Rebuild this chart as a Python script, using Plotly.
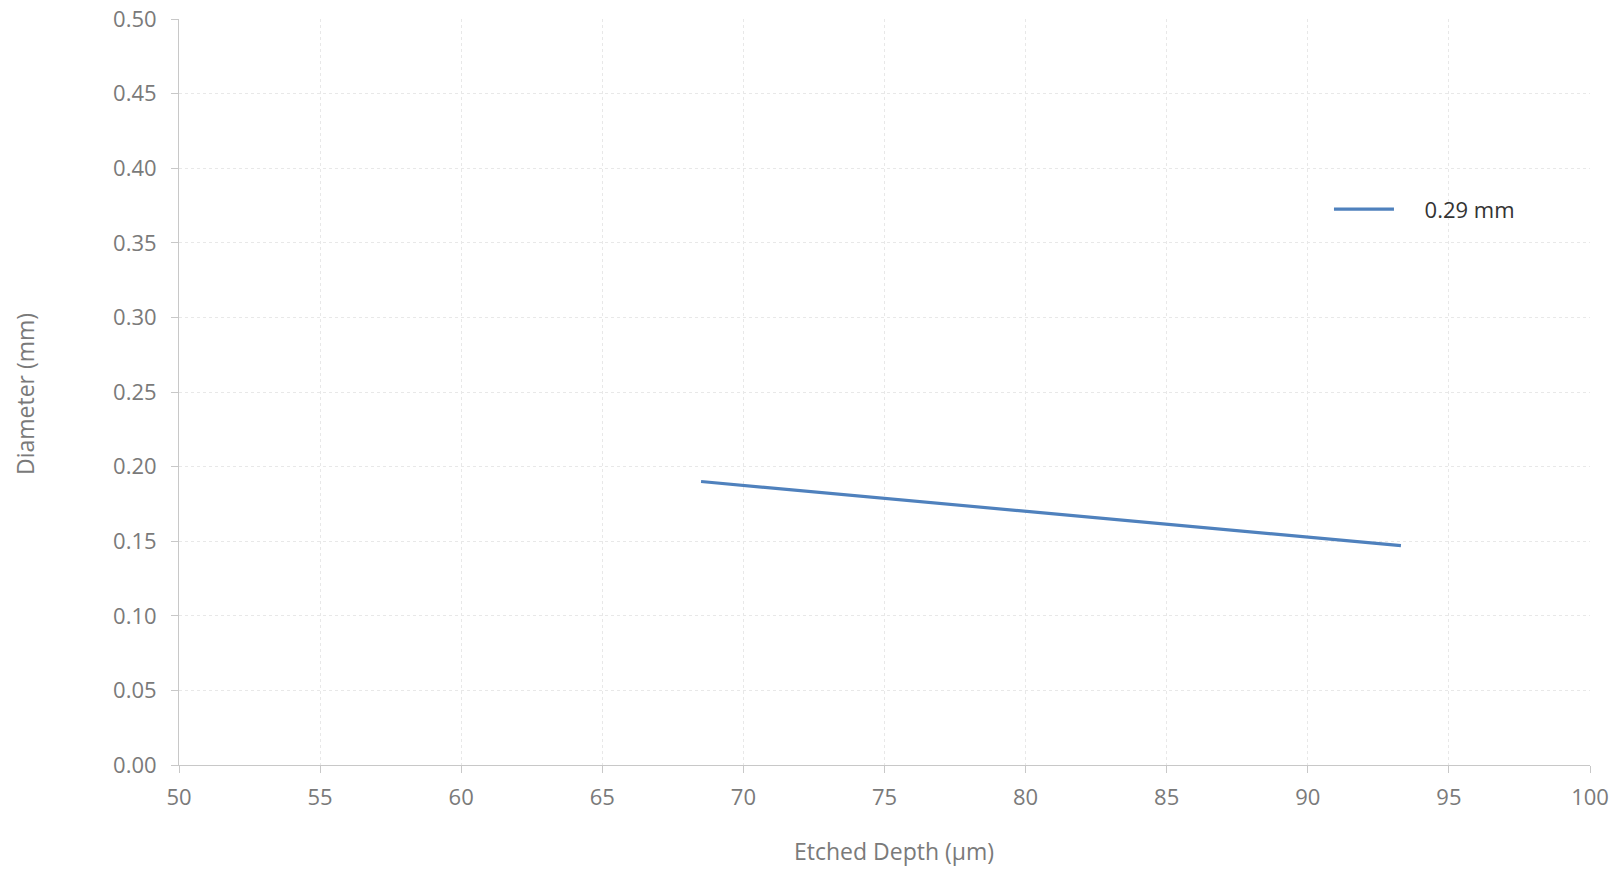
import plotly.graph_objects as go

# Diameter vs etched depth
depth_um = [68.5, 80.0, 93.3]
diameter_mm = [0.190, 0.170, 0.147]
series_name = "0.29 mm"

x_ticks = [50, 55, 60, 65, 70, 75, 80, 85, 90, 95, 100]
y_ticks = [0.00, 0.05, 0.10, 0.15, 0.20, 0.25, 0.30, 0.35, 0.40, 0.45, 0.50]

FONT = "Open Sans, DejaVu Sans, sans-serif"
TICK_COLOR = "#7a7a7a"
TITLE_FONT = dict(family=FONT, size=23, color=TICK_COLOR)

fig = go.Figure()
fig.add_trace(go.Scatter(
    x=depth_um, y=diameter_mm, mode="lines",
    name="\u2002\u2002\u2009" + series_name,
    line=dict(color="#4f81bd", width=3.2),
))

axis_common = dict(
    showline=True, linecolor="#c8c8c8", linewidth=1,
    ticks="outside", ticklen=7, tickcolor="#c8c8c8",
    showgrid=True, gridcolor="#e8e8e8", gridwidth=1, griddash="dot",
    zeroline=False, automargin=False,
    tickfont=dict(family=FONT, size=22, color=TICK_COLOR),
)

fig.update_xaxes(
    range=[50, 100], tickvals=x_ticks, ticktext=[str(v) for v in x_ticks],
    ticklabelstandoff=6,
    **axis_common,
)
fig.update_yaxes(
    range=[0, 0.5], tickvals=y_ticks, ticktext=[f"{v:.2f}" for v in y_ticks],
    ticklabelstandoff=10,
    **axis_common,
)

# Axis titles placed as paper-anchored annotations
fig.add_annotation(
    text="Etched Depth (µm)", xref="paper", yref="paper",
    x=0.5, y=0, xshift=9, yshift=-86, xanchor="center", yanchor="middle",
    showarrow=False, font=TITLE_FONT,
)
fig.add_annotation(
    text="Diameter (mm)", xref="paper", yref="paper",
    x=0, y=0.5, xshift=-154, yshift=-2, xanchor="center", yanchor="middle",
    textangle=-90, showarrow=False, font=TITLE_FONT,
)

fig.update_layout(
    width=1621, height=873,
    margin=dict(l=179, r=31, t=19, b=108),
    paper_bgcolor="white", plot_bgcolor="white",
    showlegend=True,
    legend=dict(
        x=0.815, y=0.745, xanchor="left", yanchor="middle",
        bgcolor="rgba(0,0,0,0)", itemwidth=60,
        font=dict(family=FONT, size=22, color="#333333"),
    ),
)

fig.write_html("out.html")
